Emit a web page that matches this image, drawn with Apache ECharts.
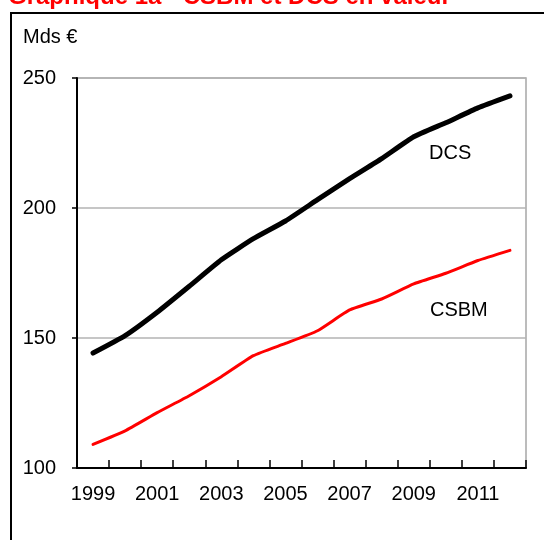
<!DOCTYPE html>
<html>
<head>
<meta charset="utf-8">
<script src="https://cdn.jsdelivr.net/npm/echarts@6/dist/echarts.min.js"></script>
<style>
  html, body { margin: 0; padding: 0; background: #fff; }
  #chart { width: 544px; height: 540px; }
</style>
</head>
<body>
<div id="chart"></div>
<script>
// années
var years = ['1999', '2000', '2001', '2002', '2003', '2004', '2005',
             '2006', '2007', '2008', '2009', '2010', '2011', '2012'];
// DCS en valeur (Mds €)
var dcs = [144.2, 150.9, 159.9, 169.9, 180.1, 188.2, 195.0,
           203.2, 211.3, 219.0, 227.4, 232.8, 238.5, 243.1];
// CSBM en valeur (Mds €)
var csbm = [109.1, 114.3, 121.3, 127.8, 135.1, 143.2, 147.9,
            152.8, 160.8, 165.0, 170.8, 174.9, 179.8, 183.7];

var font = '"Liberation Sans", Arial, sans-serif';

var chart = echarts.init(document.getElementById('chart'));

var option = {
    animation: false,
    backgroundColor: '#fff',
    grid: {
        left: 77, top: 78, right: 18, bottom: 72,
        show: true,
        borderColor: '#a6a6a6',
        borderWidth: 1.5,
        containLabel: false
    },
    graphic: [
        {
            // cadre
            type: 'rect',
            shape: { x: 11, y: 13, width: 700, height: 700 },
            style: { fill: 'none', stroke: '#000', lineWidth: 2 },
            silent: true
        },
        {
            type: 'text',
            left: 8, top: -15,
            style: { text: 'Graphique 1a - CSBM et DCS en valeur', fill: '#ff0000',
                     font: 'bold 24px ' + font }
        },
        {
            type: 'text',
            left: 23, top: 27,
            style: { text: 'Mds €', fill: '#000', font: '20px ' + font }
        },
        {
            type: 'text',
            left: 429, top: 143,
            style: { text: 'DCS', fill: '#000', font: '20px ' + font }
        },
        {
            type: 'text',
            left: 430, top: 300,
            style: { text: 'CSBM', fill: '#000', font: '20px ' + font }
        }
    ],
    xAxis: {
        type: 'category',
        data: years,
        boundaryGap: true,
        axisLine: { lineStyle: { color: '#000', width: 2 } },
        axisTick: { show: true, inside: true, length: 8, interval: 0,
                    lineStyle: { color: '#000', width: 1.5 } },
        axisLabel: { interval: 1, color: '#000', fontSize: 20, fontFamily: font, margin: 16 },
        splitLine: { show: false }
    },
    yAxis: {
        type: 'value',
        min: 100, max: 250, interval: 50,
        axisLine: { show: true, lineStyle: { color: '#000', width: 2 } },
        axisTick: { show: true, length: 5, lineStyle: { color: '#000', width: 1.5 } },
        axisLabel: { color: '#000', fontSize: 20, fontFamily: font, margin: 21 },
        splitLine: { show: true, lineStyle: { color: '#b3b3b3', width: 1.5 } }
    },
    series: [
        {
            name: 'DCS',
            type: 'line',
            data: dcs,
            smooth: 0.15,
            showSymbol: false,
            lineStyle: { color: '#000', width: 5, cap: 'round' }
        },
        {
            name: 'CSBM',
            type: 'line',
            data: csbm,
            smooth: 0.15,
            showSymbol: false,
            lineStyle: { color: '#ff0000', width: 3, cap: 'round' }
        }
    ]
};

chart.setOption(option);
</script>
</body>
</html>
